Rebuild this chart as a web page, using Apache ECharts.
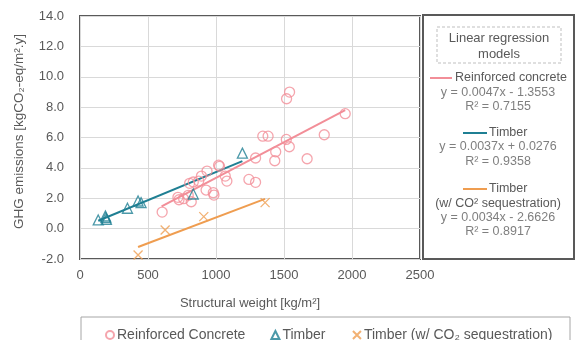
<!DOCTYPE html>
<html>
<head>
<meta charset="utf-8">
<script src="https://cdn.jsdelivr.net/npm/echarts@6/dist/echarts.min.js"></script>
<style>
  html, body { margin: 0; padding: 0; background: #fff; }
  #chart { width: 576px; height: 340px; }
</style>
</head>
<body>
<div id="chart"></div>
<script>
// scatter points: [structural weight, GHG]
const rcPoints = [
  [604, 1.09], [720, 2.06], [728, 1.9], [762, 1.97], [796, 2.19], [818, 1.77],
  [806, 2.98], [833, 3.07], [873, 3.13], [893, 3.46], [934, 3.79], [927, 2.54],
  [980, 2.37], [985, 2.21], [1019, 4.18], [1026, 4.1], [1068, 3.46], [1080, 3.13],
  [1242, 3.24], [1291, 3.05], [1291, 4.65], [1344, 6.09], [1383, 6.09], [1439, 5.06],
  [1432, 4.47], [1517, 5.87], [1539, 5.39], [1519, 8.55], [1541, 8.99], [1670, 4.6],
  [1796, 6.18], [1950, 7.57]
];
const timberPoints = [
  [134, 0.57], [187, 0.83], [194, 0.61], [190, 0.72], [349, 1.34],
  [427, 1.82], [449, 1.71], [833, 2.28], [1194, 4.97]
];
const timberCo2Points = [
  [427, -1.74], [626, -0.09], [910, 0.79], [1361, 1.71]
];

// trend line end points
const rcLine = [[600, 1.46], [1950, 7.81]];
const timberLine = [[134, 0.52], [1194, 4.44]];
const timberCo2Line = [[427, -1.21], [1361, 1.96]];

const xTicks = { min: 0, max: 2500, step: 500 };
const yTicks = { min: -2, max: 14, step: 2 };

const seriesNames = ["Reinforced Concrete", "Timber", "Timber (w/ CO₂ sequestration)"];

const modelLabels = [
  { name: "Reinforced concrete", eq: "y = 0.0047x - 1.3553", r2: "R² = 0.7155" },
  { name: "Timber", eq: "y = 0.0037x + 0.0276", r2: "R² = 0.9358" },
  { name: "Timber", sub: "(w/ CO² sequestration)", eq: "y = 0.0034x - 2.6626", r2: "R² = 0.8917" }
];

const PINK = "#f28e98";
const TEAL = "#1f7f93";
const ORANGE = "#ef9d50";
const TXT = "#595959";
const GRAY = "#7f7f7f";
const FONT = "Liberation Sans, Arial, sans-serif";
const PF = "12.5px " + FONT;

const chart = echarts.init(document.getElementById("chart"));

const crossPath = "path://M0,0L10,10M10,0L0,10";

// right-hand panel with the regression models
const panel = [
  {
    type: "rect",
    shape: { x: 423, y: 15, width: 151, height: 244 },
    style: { fill: "#fff", stroke: TXT, lineWidth: 2 }
  },
  {
    type: "rect",
    shape: { x: 437, y: 27, width: 124, height: 36 },
    style: { fill: "none", stroke: "#bfbfbf", lineWidth: 1, lineDash: [3, 2] }
  },
  { type: "text", x: 499, y: 38, style: { text: "Linear regression", fill: TXT, font: "13px " + FONT, align: "center", verticalAlign: "middle" } },
  { type: "text", x: 499, y: 54, style: { text: "models", fill: TXT, font: "13px " + FONT, align: "center", verticalAlign: "middle" } },
  // reinforced concrete
  { type: "line", shape: { x1: 430, y1: 78, x2: 452, y2: 78 }, style: { stroke: PINK, lineWidth: 2 } },
  { type: "text", x: 455, y: 78, style: { text: modelLabels[0].name, fill: TXT, font: PF, verticalAlign: "middle" } },
  { type: "text", x: 498, y: 93, style: { text: modelLabels[0].eq, fill: GRAY, font: PF, align: "center", verticalAlign: "middle" } },
  { type: "text", x: 498, y: 107, style: { text: modelLabels[0].r2, fill: GRAY, font: PF, align: "center", verticalAlign: "middle" } },
  // timber
  { type: "line", shape: { x1: 463, y1: 133, x2: 487, y2: 133 }, style: { stroke: TEAL, lineWidth: 2 } },
  { type: "text", x: 489, y: 133, style: { text: modelLabels[1].name, fill: TXT, font: PF, verticalAlign: "middle" } },
  { type: "text", x: 498, y: 147, style: { text: modelLabels[1].eq, fill: GRAY, font: PF, align: "center", verticalAlign: "middle" } },
  { type: "text", x: 498, y: 162, style: { text: modelLabels[1].r2, fill: GRAY, font: PF, align: "center", verticalAlign: "middle" } },
  // timber with sequestration
  { type: "line", shape: { x1: 463, y1: 189, x2: 487, y2: 189 }, style: { stroke: ORANGE, lineWidth: 2 } },
  { type: "text", x: 489, y: 189, style: { text: modelLabels[2].name, fill: TXT, font: PF, verticalAlign: "middle" } },
  { type: "text", x: 498, y: 204, style: { text: modelLabels[2].sub, fill: TXT, font: PF, align: "center", verticalAlign: "middle" } },
  { type: "text", x: 498, y: 218, style: { text: modelLabels[2].eq, fill: GRAY, font: PF, align: "center", verticalAlign: "middle" } },
  { type: "text", x: 498, y: 232, style: { text: modelLabels[2].r2, fill: GRAY, font: PF, align: "center", verticalAlign: "middle" } },
  // bottom legend frame
  {
    type: "rect",
    shape: { x: 81, y: 317, width: 489, height: 40 },
    style: { fill: "none", stroke: "#a6a6a6", lineWidth: 1 }
  }
];

const option = {
  animation: false,
  textStyle: { fontFamily: FONT },
  grid: { left: 80, right: 156, top: 16, bottom: 81, show: true, borderColor: TXT, borderWidth: 2, backgroundColor: "#fff" },
  xAxis: {
    type: "value",
    min: xTicks.min,
    max: xTicks.max,
    interval: xTicks.step,
    name: "Structural weight [kg/m²]",
    nameLocation: "middle",
    nameGap: 38,
    nameTextStyle: { color: TXT, fontSize: 13 },
    axisLine: { show: false },
    axisTick: { show: false },
    axisLabel: { color: TXT, fontSize: 13, margin: 10, formatter: (v) => String(v) },
    splitLine: { lineStyle: { color: "#d9d9d9", width: 1 } }
  },
  yAxis: {
    type: "value",
    min: yTicks.min,
    max: yTicks.max,
    interval: yTicks.step,
    name: "GHG emissions [kgCO₂-eq/m².y]",
    nameLocation: "middle",
    nameGap: 54,
    nameTextStyle: { color: TXT, fontSize: 13.5, padding: [0, 0, 0, 12] },
    axisLine: { show: false },
    axisTick: { show: false },
    axisLabel: { color: TXT, fontSize: 13, margin: 16, formatter: (v) => v.toFixed(1) },
    splitLine: { lineStyle: { color: "#d9d9d9", width: 1 } }
  },
  legend: {
    data: seriesNames,
    left: 105,
    top: 328,
    padding: 0,
    itemWidth: 8,
    itemHeight: 8,
    itemGap: 25,
    textStyle: { color: TXT, fontSize: 14, padding: [0, 0, 0, -2] }
  },
  series: [
    {
      name: seriesNames[0],
      type: "scatter",
      data: rcPoints,
      symbol: "circle",
      symbolSize: 10,
      itemStyle: { color: "rgba(255,255,255,0)", borderColor: PINK, borderWidth: 1.3 },
      z: 3
    },
    {
      name: seriesNames[1],
      type: "scatter",
      data: timberPoints,
      symbol: "triangle",
      symbolSize: 10,
      itemStyle: { color: "rgba(255,255,255,0)", borderColor: TEAL, borderWidth: 1.3 },
      z: 3
    },
    {
      name: seriesNames[2],
      type: "scatter",
      data: timberCo2Points,
      symbol: crossPath,
      symbolSize: 9,
      itemStyle: { color: "none", borderColor: ORANGE, borderWidth: 1.3 },
      z: 3
    },
    {
      type: "line",
      data: rcLine,
      symbol: "none",
      lineStyle: { color: PINK, width: 2 },
      z: 2
    },
    {
      type: "line",
      data: timberLine,
      symbol: "none",
      lineStyle: { color: TEAL, width: 2 },
      z: 2
    },
    {
      type: "line",
      data: timberCo2Line,
      symbol: "none",
      lineStyle: { color: ORANGE, width: 2 },
      z: 2
    }
  ],
  graphic: panel
};

chart.setOption(option);
</script>
</body>
</html>
